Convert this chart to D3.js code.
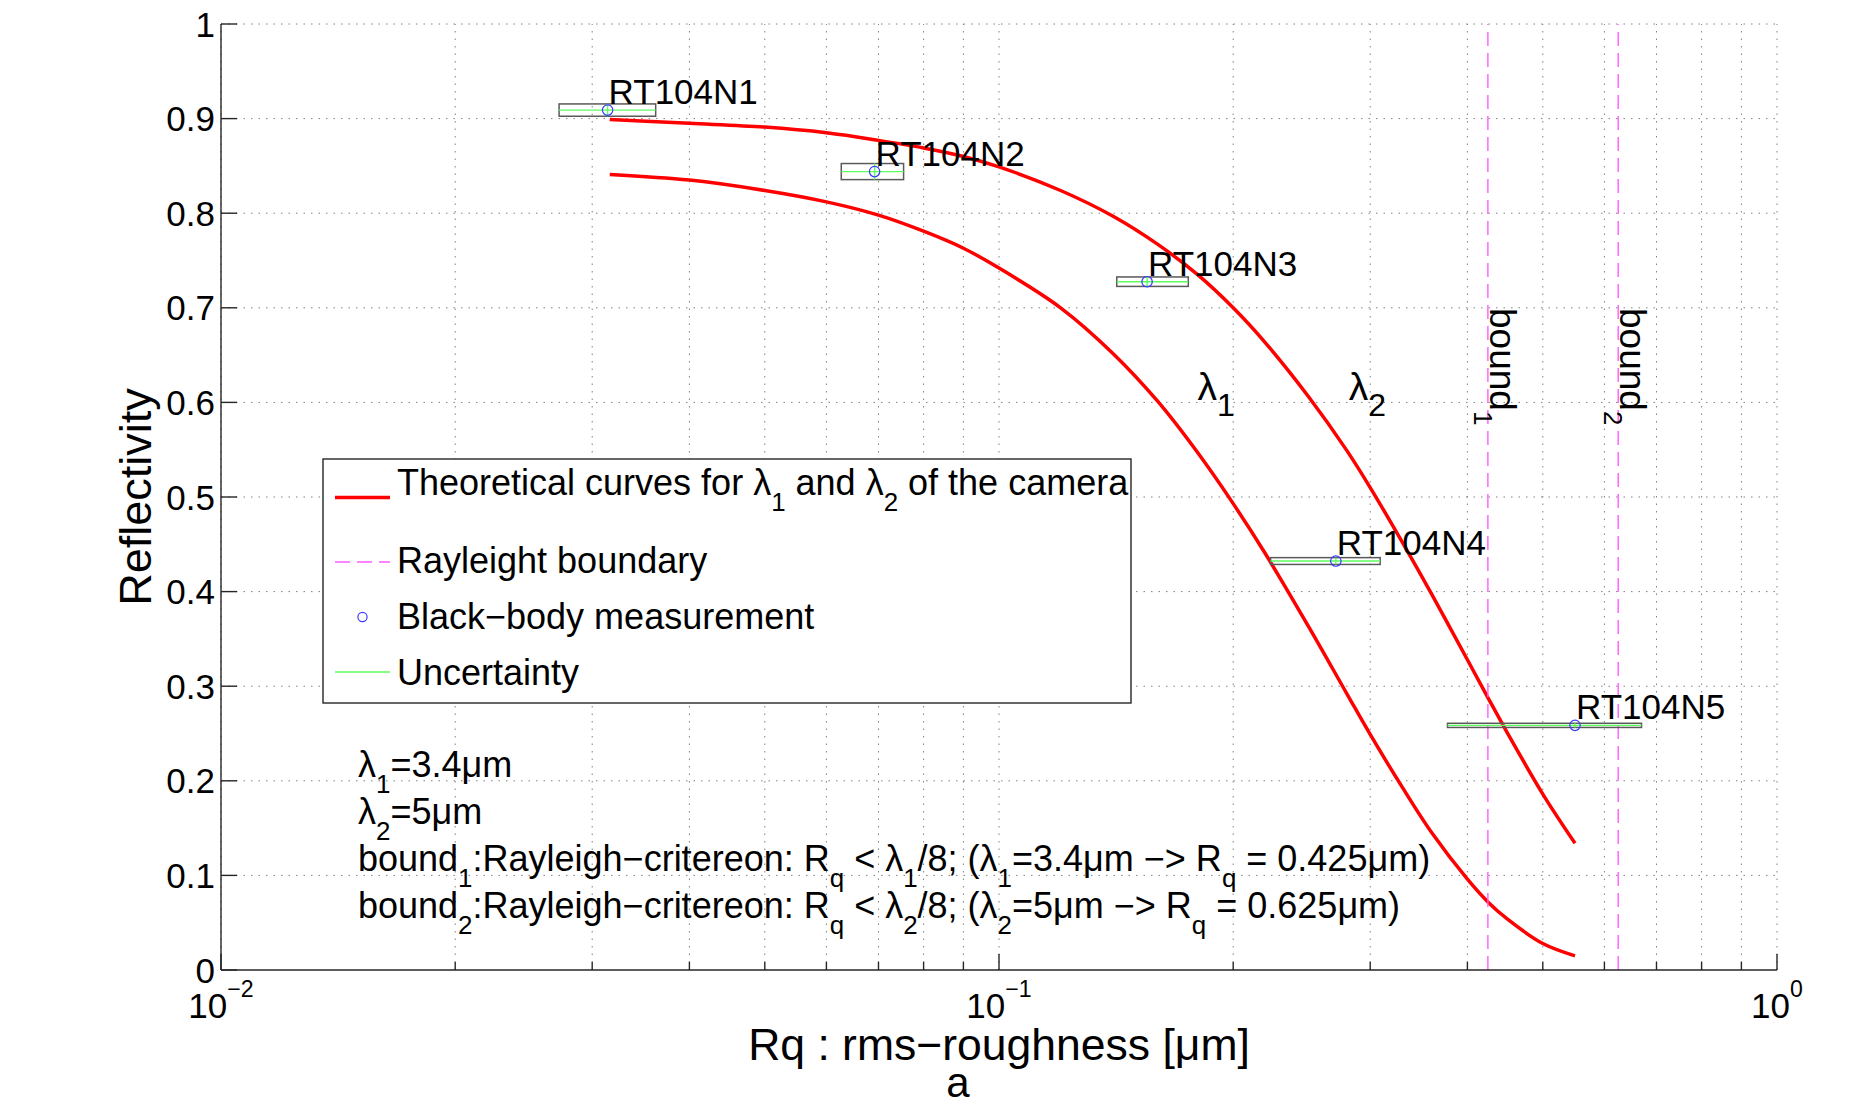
<!DOCTYPE html>
<html>
<head>
<meta charset="utf-8">
<script src="https://cdn.jsdelivr.net/npm/d3@7"></script>
<style>
  body { margin:0; background:#fff; }
  svg text { font-family:"Liberation Sans", Arial, Helvetica, sans-serif; fill:#000; white-space:pre; }
</style>
</head>
<body>
<div id="canvas"></div>
<script>
// roughness values along the theoretical curves [um]
var curveRq = [0.0316, 0.04, 0.05, 0.06, 0.07, 0.08, 0.09, 0.1, 0.12, 0.14, 0.16, 0.18, 0.2,
               0.22, 0.25, 0.28, 0.3, 0.33, 0.36, 0.4, 0.425, 0.45, 0.5, 0.55];
// reflectivity for lambda1 = 3.4um (lower red curve)
var curveL1 = [0.841, 0.835, 0.824, 0.812, 0.798, 0.781, 0.763, 0.742, 0.700, 0.652, 0.601, 0.547, 0.493,
               0.440, 0.363, 0.292, 0.249, 0.193, 0.145, 0.096, 0.072, 0.054, 0.028, 0.015];
// reflectivity for lambda2 = 5um (upper red curve)
var curveL2 = [0.899, 0.895, 0.891, 0.885, 0.877, 0.869, 0.860, 0.849, 0.824, 0.797, 0.767, 0.735, 0.700,
               0.663, 0.606, 0.549, 0.510, 0.452, 0.397, 0.328, 0.288, 0.251, 0.186, 0.134];

// black-body measurements
var sampleNames = ['RT104N1', 'RT104N2', 'RT104N3', 'RT104N4', 'RT104N5'];
var sampleRq    = [0.0314, 0.0692, 0.155, 0.271, 0.550];
var sampleRqLo  = [0.0272, 0.0627, 0.1417, 0.2234, 0.3771];
var sampleRqHi  = [0.0362, 0.0754, 0.1751, 0.3090, 0.6697];
var sampleRefl  = [0.909, 0.844, 0.7276, 0.4323, 0.2586];
var sampleErr   = [0.0065, 0.0085, 0.005, 0.0036, 0.0022];

// Rayleigh boundaries
var boundRq = [0.425, 0.625];
var boundNames = ['bound_{1}', 'bound_{2}'];

// curve labels
var lambdaNames = ['λ_{1}', 'λ_{2}'];
var lambdaRq = [0.18, 0.2815];
var lambdaRefl = [0.603, 0.603];

var yTicks = [0, 0.1, 0.2, 0.3, 0.4, 0.5, 0.6, 0.7, 0.8, 0.9, 1];
var xDecades = [0.01, 0.1, 1];
var xTickNames = ['10^{−2}', '10^{−1}', '10^{0}'];

var legendNames = ['Theoretical curves for λ_{1} and λ_{2} of the camera', 'Rayleight boundary',
                   'Black−body measurement', 'Uncertainty'];
var noteLines = ['λ_{1}=3.4μm', 'λ_{2}=5μm',
  'bound_{1}:Rayleigh−critereon: R_{q} < λ_{1}/8; (λ_{1}=3.4μm −> R_{q} = 0.425μm)',
  'bound_{2}:Rayleigh−critereon: R_{q} < λ_{2}/8; (λ_{2}=5μm −> R_{q} = 0.625μm)'];

var W = 1864, H = 1106;
var m = {t:24, r:87, b:136, l:221};

var svg = d3.select('#canvas').append('svg').attr('width', W).attr('height', H);

var x = d3.scaleLog().domain([0.01, 1]).range([m.l, W - m.r]);
var y = d3.scaleLinear().domain([0, 1]).range([H - m.b, m.t]);

// text with _{sub} and ^{sup} parts
function rich(sel, str, scale, sub, sup) {
  var re = /([_^])\{([^}]*)\}/g, last = 0, mm, prev = 0;
  function off(l) { return l === 1 ? sub : (l === -1 ? -sup : 0); }
  function add(t, l) {
    sel.append('tspan').attr('dy', off(l) - off(prev))
      .attr('font-size', l ? scale + 'em' : null).text(t);
    prev = l;
  }
  while ((mm = re.exec(str))) {
    if (mm.index > last) add(str.slice(last, mm.index), 0);
    add(mm[2], mm[1] === '_' ? 1 : -1);
    last = re.lastIndex;
  }
  if (last < str.length) add(str.slice(last), 0);
}

// grid
var xGrid = [];
xDecades.forEach(function(d, i){
  if (i < xDecades.length - 1) for (var k = 1; k < 10; k++) xGrid.push(d * k);
  else xGrid.push(d);
});
var grid = svg.append('g');
grid.selectAll('.vg').data(xGrid).enter().append('line')
  .attr('x1', function(d){ return x(d); }).attr('x2', function(d){ return x(d); })
  .attr('y1', y(0)).attr('y2', y(1))
  .attr('stroke', '#808080').attr('stroke-width', 1).attr('stroke-dasharray', '1.5,6');
grid.selectAll('.hg').data(yTicks.slice(1)).enter().append('line')
  .attr('x1', x(0.01)).attr('x2', x(1))
  .attr('y1', function(d){ return y(d); }).attr('y2', function(d){ return y(d); })
  .attr('stroke', '#808080').attr('stroke-width', 1).attr('stroke-dasharray', '1.5,6');

// theoretical curves
var line = d3.line().curve(d3.curveCatmullRom.alpha(0.5))
  .x(function(d){ return x(d[0]); }).y(function(d){ return y(d[1]); });
[curveL1, curveL2].forEach(function(c){
  svg.append('path').datum(curveRq.map(function(r, i){ return [r, c[i]]; }))
    .attr('d', line).attr('fill', 'none').attr('stroke', '#ff0000').attr('stroke-width', 3.5);
});

// Rayleigh boundaries
svg.selectAll('.bound').data(boundRq).enter().append('line')
  .attr('x1', function(d){ return x(d); }).attr('x2', function(d){ return x(d); })
  .attr('y1', y(0)).attr('y2', y(1))
  .attr('stroke', '#ff5cff').attr('stroke-width', 1.4).attr('stroke-dasharray', '14,7');
boundRq.forEach(function(b, i){
  var t = svg.append('text').attr('font-size', 37)
    .attr('transform', 'translate(' + (x(b) + 2) + ',308) rotate(90)');
  rich(t, boundNames[i], 0.7, 16, 0);
});

// uncertainty boxes + measurements
sampleRq.forEach(function(r, i){
  var x0 = x(sampleRqLo[i]), x1 = x(sampleRqHi[i]),
      ya = y(sampleRefl[i] + sampleErr[i]), yb = y(sampleRefl[i] - sampleErr[i]),
      cx = x(r), cy = y(sampleRefl[i]);
  svg.append('rect').attr('x', x0).attr('y', ya).attr('width', x1 - x0).attr('height', yb - ya)
    .attr('fill', 'none').attr('stroke', '#5a5a5a').attr('stroke-width', 1.5);
  svg.append('line').attr('x1', x0).attr('x2', x1).attr('y1', cy).attr('y2', cy)
    .attr('stroke', '#5cff5c').attr('stroke-width', 1.4);
  svg.append('line').attr('x1', cx).attr('x2', cx).attr('y1', ya).attr('y2', yb)
    .attr('stroke', '#5cff5c').attr('stroke-width', 1.4);
  svg.append('circle').attr('cx', cx).attr('cy', cy).attr('r', 5.2)
    .attr('fill', 'none').attr('stroke', '#3a3aff').attr('stroke-width', 1.2);
  svg.append('text').attr('x', cx + 1).attr('y', cy - 6).attr('font-size', 35).text(sampleNames[i]);
});

// lambda labels
lambdaNames.forEach(function(n, i){
  var t = svg.append('text').attr('x', x(lambdaRq[i])).attr('y', y(lambdaRefl[i])).attr('font-size', 39);
  rich(t, n, 0.82, 16, 0);
});

// notes
noteLines.forEach(function(n, i){
  var t = svg.append('text').attr('x', 358).attr('y', 777 + i * 47).attr('font-size', 36);
  rich(t, n, 0.72, 16, 0);
});

// axes
var ax = svg.append('g');
ax.append('line').attr('x1', x(0.01)).attr('x2', x(1)).attr('y1', y(0)).attr('y2', y(0))
  .attr('stroke', '#262626').attr('stroke-width', 1.4);
ax.append('line').attr('x1', x(0.01)).attr('x2', x(0.01)).attr('y1', y(0)).attr('y2', y(1))
  .attr('stroke', '#262626').attr('stroke-width', 1.4);
ax.selectAll('.yt').data(yTicks).enter().append('line')
  .attr('x1', x(0.01)).attr('x2', x(0.01) + 16)
  .attr('y1', function(d){ return y(d); }).attr('y2', function(d){ return y(d); })
  .attr('stroke', '#262626').attr('stroke-width', 1.4);
ax.selectAll('.yl').data(yTicks).enter().append('text')
  .attr('x', x(0.01) - 6).attr('y', function(d){ return y(d); })
  .attr('dy', '0.36em').attr('text-anchor', 'end').attr('font-size', 35)
  .text(function(d){ return d === 0 || d === 1 ? String(d) : d.toFixed(1); });
ax.selectAll('.xt').data(xGrid).enter().append('line')
  .attr('x1', function(d){ return x(d); }).attr('x2', function(d){ return x(d); })
  .attr('y1', y(0))
  .attr('y2', function(d){ return y(0) - (xDecades.indexOf(d) >= 0 ? 16 : 8); })
  .attr('stroke', '#262626').attr('stroke-width', 1.4);
xDecades.forEach(function(d, i){
  var t = ax.append('text').attr('x', x(d)).attr('y', 1018).attr('text-anchor', 'middle').attr('font-size', 35);
  rich(t, xTickNames[i], 0.66, 0, 21);
});

// axis titles
svg.append('text').attr('x', (x(0.01) + x(1)) / 2).attr('y', 1060).attr('text-anchor', 'middle')
  .attr('font-size', 44.5).text('Rq : rms−roughness [μm]');
svg.append('text').attr('x', 958).attr('y', 1097).attr('text-anchor', 'middle')
  .attr('font-size', 42).text('a');
svg.append('text').attr('transform', 'translate(151,' + ((y(0) + y(1)) / 2) + ') rotate(-90)')
  .attr('text-anchor', 'middle').attr('font-size', 45).text('Reflectivity');

// legend
var lg = svg.append('g');
lg.append('rect').attr('x', 323).attr('y', 459).attr('width', 808).attr('height', 244)
  .attr('fill', '#fff').attr('stroke', '#262626').attr('stroke-width', 1.4);
var rows = [495, 573, 629, 685];
lg.append('line').attr('x1', 335).attr('x2', 390).attr('y1', 497.5).attr('y2', 497.5)
  .attr('stroke', '#ff0000').attr('stroke-width', 3.5);
lg.append('line').attr('x1', 335).attr('x2', 390).attr('y1', 562).attr('y2', 562)
  .attr('stroke', '#ff5cff').attr('stroke-width', 1.4).attr('stroke-dasharray', '15,7');
lg.append('circle').attr('cx', 362.5).attr('cy', 617).attr('r', 4.6)
  .attr('fill', 'none').attr('stroke', '#3a3aff').attr('stroke-width', 1.2);
lg.append('line').attr('x1', 335).attr('x2', 390).attr('y1', 672).attr('y2', 672)
  .attr('stroke', '#5cff5c').attr('stroke-width', 1.4);
legendNames.forEach(function(n, i){
  var t = lg.append('text').attr('x', 397).attr('y', rows[i]).attr('font-size', 36);
  rich(t, n, 0.72, 16, 0);
});
</script>
</body>
</html>
